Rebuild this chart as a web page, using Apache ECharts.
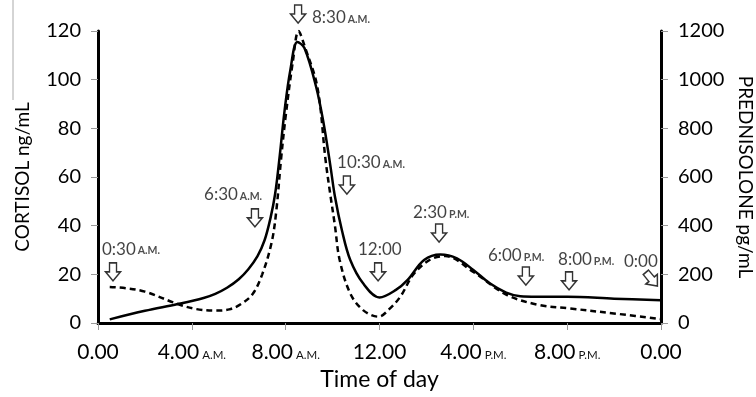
<!DOCTYPE html>
<html><head><meta charset="utf-8">
<script src="https://cdn.jsdelivr.net/npm/echarts@6/dist/echarts.min.js"></script>
<style>html,body{margin:0;padding:0;background:#fff}#c{width:756px;height:397px}</style>
</head><body><div id="c"></div>
<script>
// Solid curve (left axis, CORTISOL ng/mL)
const solidTimes  = [0.5, 2, 3.4, 4.5, 5, 5.5, 6, 6.4, 6.8, 7.1, 7.35, 7.55, 7.75, 7.95, 8.2, 8.5, 8.8, 9.3, 9.6, 9.9, 10.1, 10.4, 10.75, 11.3, 12, 12.7, 13.2, 13.9, 14.6, 15.3, 16, 16.7, 17.4, 18, 18.7, 20, 22, 24];
const solidValues = [1.5, 5, 7.8, 10.3, 12, 14.5, 18, 22, 27.5, 34, 43, 53, 69, 87, 104, 115.5, 113, 97, 83, 65, 52, 38, 26, 16.3, 10.5, 13.6, 17.7, 25.9, 28.2, 26.6, 21.8, 16.3, 12.5, 11, 10.8, 10.8, 10, 9.3];
// Dashed curve (right axis, PREDNISOLONE pg/mL)
const dashedTimes  = [0.5, 1.2, 2, 3.4, 4.2, 5, 5.6, 6.1, 6.6, 7, 7.4, 7.6, 7.8, 8, 8.3, 8.55, 8.8, 9.35, 9.7, 9.9, 10.1, 10.3, 10.75, 11.3, 11.95, 12.45, 12.9, 13.45, 14.15, 14.8, 16, 17.4, 18.8, 20.1, 22.2, 24];
const dashedValues = [148, 143, 129, 78, 57, 51, 56, 78, 120, 200, 330, 460, 670, 850, 1070, 1200, 1140, 970, 670, 530, 400, 260, 122, 53, 26, 60, 110, 200, 260, 275, 210, 117, 74, 60, 37, 16];

const xTickValues = [0, 4, 8, 12, 16, 20, 24];
const xTickMain   = ['0.00', '4.00', '8.00', '12.00', '4.00', '8.00', '0.00'];
const xTickSuffix = ['', 'A.M.', 'A.M.', '', 'P.M.', 'P.M.', ''];

const sampleMain   = ['0:30', '6:30', '8:30', '10:30', '12:00', '2:30', '6:00', '8:00', '0:00'];
const sampleSuffix = ['A.M.', 'A.M.', 'A.M.', 'A.M.', '', 'P.M.', 'P.M.', 'P.M.', ''];
const arrowTimes   = [0.64, 6.69, 8.53, 10.61, 11.94, 14.54, 18.24, 20.08, 23.6];
const arrowLevels  = [21, 43.2, 127, 56.7, 21, 37, 19.3, 17.3, 18];
const labelTimes   = [0.17, 4.52, 9.12, 10.19, 11.08, 13.43, 16.62, 19.61, 22.42];
const labelLevels  = [30.4, 52.6, 125.4, 65.8, 30, 45.2, 27.9, 25.9, 25.1];

const zip = (a, b) => a.map((v, i) => [v, b[i]]);
const FONT = 'Lato';
const arrowPath = 'path://M4,0 L11,0 L11,9 L15,9 L7.5,18 L0,9 L4,9 Z';

const chart = echarts.init(document.getElementById('c'), null, {renderer: 'canvas'});
chart.setOption({
  animation: false,
  backgroundColor: '#fff',
  textStyle: {fontFamily: FONT, color: '#000'},
  grid: {left: 98, right: 95, top: 31, bottom: 74, containLabel: false, outerBoundsMode: 'none'},
  graphic: [{type: 'line', shape: {x1: 13, y1: 0, x2: 13, y2: 100}, style: {stroke: '#aaa', lineWidth: 1}}],
  xAxis: {
    type: 'value', min: 0, max: 24, interval: 4,
    name: 'Time of day', nameLocation: 'middle', nameGap: 45,
    nameTextStyle: {fontSize: 23, color: '#000', fontFamily: FONT},
    axisLine: {show: true, lineStyle: {color: '#000', width: 3}},
    axisTick: {show: true, length: 7, lineStyle: {color: '#999', width: 1}},
    splitLine: {show: false},
    axisLabel: {
      margin: 19, color: '#000',
      formatter: v => {
        const i = xTickValues.indexOf(v);
        if (i < 0) return '';
        return xTickSuffix[i] ? '{m|' + xTickMain[i] + '}{s|' + xTickSuffix[i] + '}' : '{m|' + xTickMain[i] + '}';
      },
      rich: {
        m: {fontSize: 21, color: '#000', fontFamily: FONT},
        s: {fontSize: 11.5, color: '#111', fontFamily: FONT, padding: [5, 0, 0, 3]}
      }
    }
  },
  yAxis: [{
    type: 'value', min: 0, max: 120, interval: 20, position: 'left',
    name: 'CORTISOL ng/mL', nameLocation: 'middle', nameGap: 66, nameRotate: 90,
    nameTextStyle: {fontSize: 19, color: '#000', fontFamily: FONT},
    axisLine: {show: true, lineStyle: {color: '#000', width: 3}},
    axisTick: {show: true, length: 7, lineStyle: {color: '#999', width: 1}},
    splitLine: {show: false},
    axisLabel: {margin: 17, fontSize: 20, color: '#000', fontFamily: FONT}
  }, {
    type: 'value', min: 0, max: 1200, interval: 200, position: 'right',
    name: 'PREDNISOLONE pg/mL', nameLocation: 'middle', nameGap: 75, nameRotate: -90,
    nameTextStyle: {fontSize: 19, color: '#000', fontFamily: FONT},
    axisLine: {show: true, lineStyle: {color: '#000', width: 3}},
    axisTick: {show: true, length: 7, lineStyle: {color: '#999', width: 1}},
    splitLine: {show: false},
    axisLabel: {margin: 17, fontSize: 20, color: '#000', fontFamily: FONT, formatter: v => String(v)}
  }],
  series: [{
    type: 'line', name: 'Cortisol', yAxisIndex: 0,
    data: zip(solidTimes, solidValues),
    smooth: 0.35, showSymbol: false, symbol: 'none',
    lineStyle: {color: '#000', width: 2.5}, z: 3
  }, {
    type: 'line', name: 'Prednisolone', yAxisIndex: 1,
    data: zip(dashedTimes, dashedValues),
    smooth: 0.35, showSymbol: false, symbol: 'none',
    lineStyle: {color: '#000', width: 2.5, type: [6, 4]}, z: 2
  }, {
    type: 'scatter', name: 'arrows', yAxisIndex: 0, clip: false,
    data: arrowTimes.map((t, i) => ({value: [t, arrowLevels[i]], symbolRotate: i === arrowTimes.length - 1 ? 40 : 0})),
    symbol: arrowPath, symbolSize: [15, 18],
    itemStyle: {color: '#fff', borderColor: '#000', borderWidth: 1.5},
    silent: true, z: 5
  }, {
    type: 'scatter', name: 'labels', yAxisIndex: 0, clip: false,
    data: labelTimes.map((t, i) => [t, labelLevels[i]]),
    symbolSize: 0, silent: true, z: 6,
    label: {
      show: true, position: 'right', distance: 0,
      formatter: p => {
        const i = p.dataIndex;
        return '{m|' + sampleMain[i] + '}' + (sampleSuffix[i] ? '{s|' + sampleSuffix[i] + '}' : '');
      },
      rich: {
        m: {fontSize: 17, color: '#111', fontFamily: FONT},
        s: {fontSize: 10.5, color: '#222', fontFamily: FONT, fontWeight: 'bold', padding: [4, 0, 0, 2]}
      }
    }
  }]
});
</script>
</body></html>
